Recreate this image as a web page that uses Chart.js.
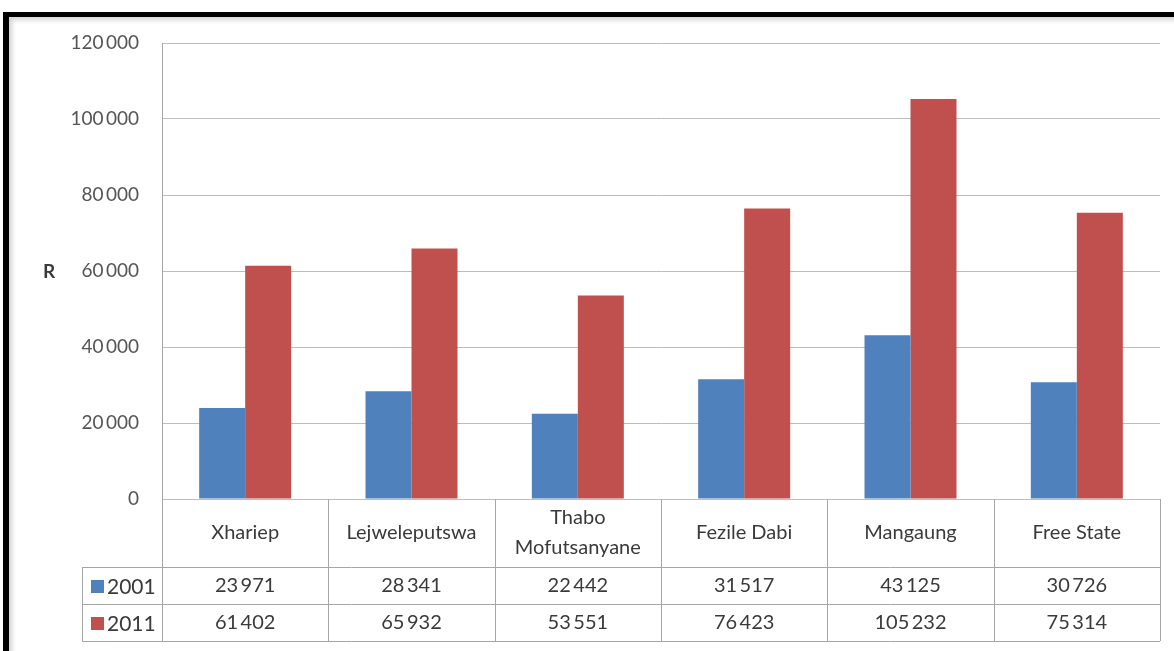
<!DOCTYPE html>
<html>
<head>
<meta charset="utf-8">
<script src="https://cdn.jsdelivr.net/npm/chart.js@4.4.1/dist/chart.umd.min.js"></script>
<style>
  html, body { margin: 0; padding: 0; background: #fff; overflow: hidden; }
  #wrap { position: relative; width: 1174px; height: 651px; }
  #frame {
    position: absolute; left: 3px; top: 12px; width: 1200px; height: 700px;
    border-left: 6px solid #000; border-top: 5px solid #000;
    box-shadow: inset 3px 3px 5px rgba(0,0,0,0.18);
  }
  #chart { position: absolute; left: 0; top: 0; }
</style>
</head>
<body>
<div id="wrap">
  <div id="frame"></div>
  <canvas id="chart" width="1174" height="651"></canvas>
</div>
<script>
// data
const categories = ['Xhariep', 'Lejweleputswa', ['Thabo', 'Mofutsanyane'], 'Fezile Dabi', 'Mangaung', 'Free State'];
const seriesNames = ['2001', '2011'];
const values2001 = [23971, 28341, 22442, 31517, 43125, 30726];
const values2011 = [61402, 65932, 53551, 76423, 105232, 75314];
const seriesColors = ['#4f81bd', '#c0504d'];
const yMin = 0;
const yMax = 120000;
const yStep = 20000;
const axisTitle = 'R';

var fontName = 'Lato, "Open Sans", sans-serif';
var textColor = '#3a3a3a';
var lineColor = '#a6a6a6';

function spaced(v) {
  // 120000 -> "120 000"
  return String(v).replace(/\B(?=(\d{3})+(?!\d))/g, '\u2009');
}

// draws the excel style data table under the bars, plus the "R" label
const dataTable = {
  id: 'dataTable',
  afterDraw(chart) {
    var ctx = chart.ctx;
    var area = chart.chartArea;
    var xs = chart.scales.x;
    var colW = (area.right - area.left) / categories.length;
    var headBottom = area.bottom + 68;
    var row1Bottom = headBottom + 37;
    var row2Bottom = row1Bottom + 37;
    var legendLeft = area.left - 80;
    var rows = [values2001, values2011];

    ctx.save();
    ctx.strokeStyle = lineColor;
    ctx.lineWidth = 1;
    ctx.beginPath();
    // vertical lines
    for (var i = 0; i <= categories.length; i++) {
      var x = Math.round(area.left + i * colW) + 0.5;
      ctx.moveTo(x, i == 0 ? area.top : area.bottom);
      ctx.lineTo(x, row2Bottom);
    }
    ctx.moveTo(legendLeft + 0.5, headBottom);
    ctx.lineTo(legendLeft + 0.5, row2Bottom);
    // horizontal lines
    [headBottom, row1Bottom, row2Bottom].forEach(function (y) {
      ctx.moveTo(legendLeft, y + 0.5);
      ctx.lineTo(area.right, y + 0.5);
    });
    ctx.stroke();

    ctx.fillStyle = textColor;
    ctx.textAlign = 'center';
    ctx.textBaseline = 'middle';
    ctx.font = '20px ' + fontName;
    categories.forEach(function (c, i) {
      var cx = xs.getPixelForValue(i);
      var mid = (area.bottom + headBottom) / 2;
      if (Array.isArray(c)) {
        ctx.fillText(c[0], cx, mid - 15);
        ctx.fillText(c[1], cx, mid + 15);
      } else {
        ctx.fillText(c, cx, mid);
      }
    });

    var tops = [headBottom, row1Bottom];
    rows.forEach(function (vals, r) {
      var mid = tops[r] + 19;
      ctx.textAlign = 'center';
      ctx.font = '20px ' + fontName;
      vals.forEach(function (v, i) {
        ctx.fillText(spaced(v), xs.getPixelForValue(i), mid);
      });
      // legend key
      ctx.fillStyle = seriesColors[r];
      ctx.fillRect(legendLeft + 9, mid - 6, 13, 13);
      ctx.fillStyle = textColor;
      ctx.textAlign = 'left';
      ctx.font = '21px ' + fontName;
      ctx.fillText(seriesNames[r], legendLeft + 25, mid + 1);
    });

    // axis title
    ctx.font = 'bold 19px ' + fontName;
    ctx.textAlign = 'center';
    ctx.fillText(axisTitle, 49, chart.scales.y.getPixelForValue(60000) + 1);
    ctx.restore();
  }
};

new Chart(document.getElementById('chart'), {
  type: 'bar',
  data: {
    labels: categories,
    datasets: [{
      label: seriesNames[0],
      data: values2001,
      backgroundColor: seriesColors[0]
    }, {
      label: seriesNames[1],
      data: values2011,
      backgroundColor: seriesColors[1]
    }]
  },
  options: {
    responsive: false,
    animation: false,
    categoryPercentage: 0.553,
    barPercentage: 1.0,
    layout: {
      padding: { left: 0, top: 43, right: 14, bottom: 152 }
    },
    plugins: {
      legend: { display: false },
      tooltip: { enabled: false }
    },
    scales: {
      x: {
        display: false
      },
      y: {
        min: yMin,
        max: yMax,
        afterFit: function (scale) { scale.width = 162; },
        border: { display: true, color: lineColor },
        grid: { color: '#bdbdbd', drawTicks: false },
        ticks: {
          stepSize: yStep,
          padding: 23,
          color: '#555555',
          font: { family: fontName, size: 19 },
          callback: function (v) { return spaced(v); }
        }
      }
    }
  },
  plugins: [dataTable]
});
</script>
</body>
</html>
